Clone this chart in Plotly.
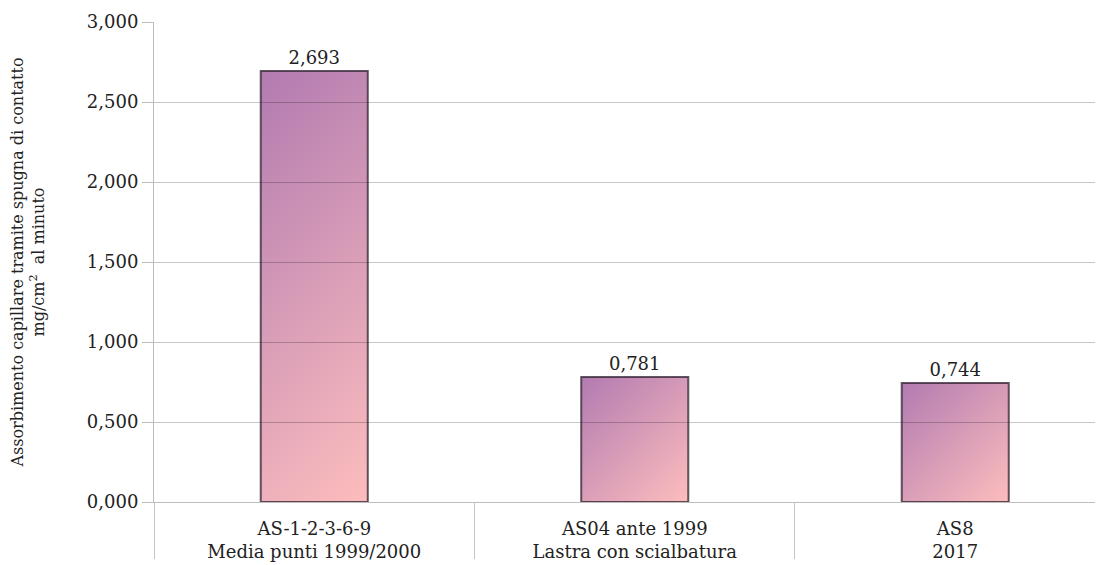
import base64
import plotly.graph_objects as go

# dati
categorie = ["AS-1-2-3-6-9<br>Media punti 1999/2000",
             "AS04 ante 1999<br>Lastra con scialbatura",
             "AS8<br>2017"]
valori = [2.693, 0.781, 0.744]
tick_y = [0, 0.5, 1.0, 1.5, 2.0, 2.5, 3.0]

titolo_y = "Assorbimento capillare tramite spugna di contatto<br>mg/cm<sup>2</sup>  al minuto"

FONT = "DejaVu Serif"
TESTO = "#222222"
W, H = 1103, 565
M = dict(l=146, r=0, t=14, b=71)
larg_barra = 0.334
x_range = [-0.5, 2.486]
y_range = [0, 3]

span = x_range[1] - x_range[0]
px_x = (W - M["l"] - M["r"]) / span
px_y = (H - M["t"] - M["b"]) / (y_range[1] - y_range[0])


def gradiente(w, h):
    # gradiente a 45 gradi (viola in alto a sinistra -> rosa in basso a destra)
    t = (w + h) / 2
    svg = ("<svg xmlns='http://www.w3.org/2000/svg' width='%d' height='%d' viewBox='0 0 %.1f %.1f' "
           "preserveAspectRatio='none'><defs><linearGradient id='g' gradientUnits='userSpaceOnUse' "
           "x1='0' y1='0' x2='%.1f' y2='%.1f'>"
           "<stop offset='0' stop-color='#b27bb1'/><stop offset='1' stop-color='#fdbdbd'/>"
           "</linearGradient></defs><rect x='0' y='0' width='%.1f' height='%.1f' fill='url(#g)'/></svg>"
           % (w, h, w, h, t, t, w, h))
    return "data:image/svg+xml;base64," + base64.b64encode(svg.encode()).decode()


fig = go.Figure()
fig.add_bar(x=categorie, y=valori, width=larg_barra,
            marker=dict(color="rgba(0,0,0,0)", line=dict(color="rgba(45,30,45,0.75)", width=2)),
            texttemplate="%{y:.3f}", textposition="outside", cliponaxis=False,
            textfont=dict(family=FONT, size=18, color=TESTO), hoverinfo="skip")

immagini = []
for i, v in enumerate(valori):
    immagini.append(dict(source=gradiente(larg_barra * px_x, v * px_y),
                         xref="x domain", yref="y",
                         x=(i - larg_barra / 2 - x_range[0]) / span, y=v,
                         sizex=larg_barra / span, sizey=v,
                         xanchor="left", yanchor="top", sizing="stretch", layer="below"))

fig.update_layout(
    width=W, height=H,
    margin=M,
    plot_bgcolor="white", paper_bgcolor="white",
    separators=",.",
    showlegend=False,
    images=immagini,
    font=dict(family=FONT, size=18, color=TESTO),
)
fig.update_xaxes(range=x_range, showline=True, linecolor="#bdbdbd", linewidth=1,
                 ticks="outside", tickson="boundaries", ticklen=56, tickcolor="#c4c4c4",
                 ticklabelstandoff=10, showgrid=False, zeroline=False,
                 tickfont=dict(family=FONT, size=18, color=TESTO))
fig.update_yaxes(range=y_range, tickvals=tick_y, tickformat=".3f",
                 showline=True, linecolor="#bdbdbd", linewidth=1,
                 ticks="outside", ticklen=11, tickcolor="#bdbdbd",
                 gridcolor="rgba(0,0,0,0.22)", gridwidth=1, zeroline=False,
                 tickfont=dict(family=FONT, size=18, color=TESTO),
                 title=dict(text=titolo_y, standoff=41,
                            font=dict(family=FONT, size=16, color=TESTO)))

fig.write_html("out.html")
